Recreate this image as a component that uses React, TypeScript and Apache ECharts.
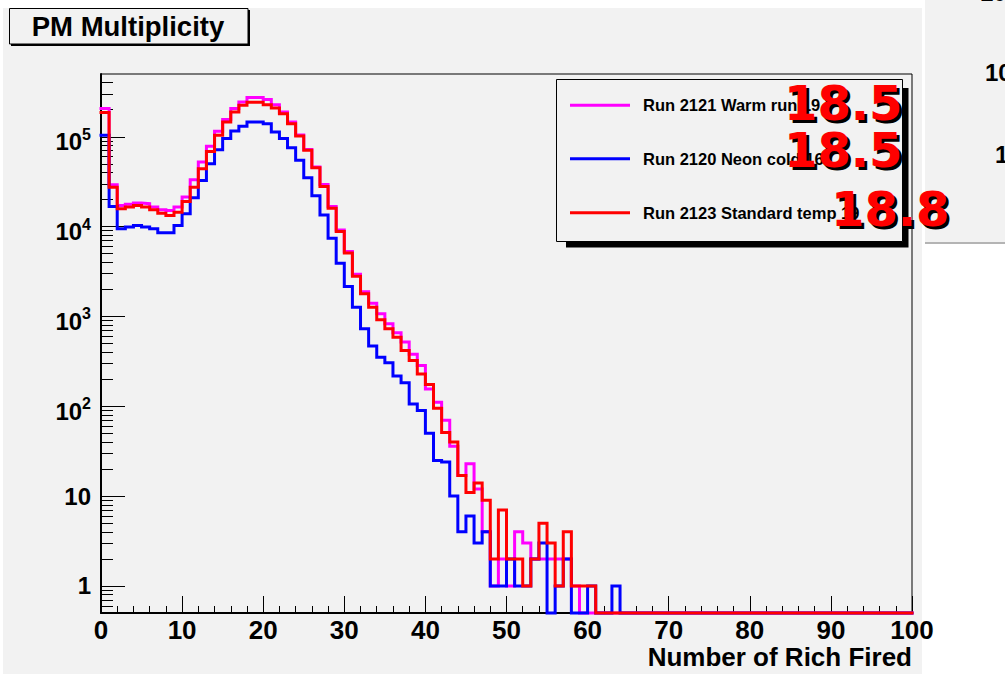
import React, { useEffect, useRef } from 'react';
import * as echarts from 'echarts';

// Bin contents, bins of width 1 from 0 to 100 (Number of Rich Fired)
const run2121Warm: number[] = [
  206000, 29300, 17200, 17700, 18300, 18000, 16500, 15400, 15100, 16500,
  21300, 33300, 52400, 78300, 115000, 156000, 206000, 244000, 273000, 273000,
  260000, 228000, 189000, 146000, 105000, 72000, 46000, 29500, 16800, 9200,
  5300, 2950, 1880, 1400, 1070, 828, 660, 520, 380, 285,
  156, 111, 70, 36, 17, 23, 12, 4, 1, 2,
  1, 4, 3, 2, 2, 2, 2, 2, 1, 0,
  0, 0, 0, 0, 0, 0, 0, 0, 0, 0,
  0, 0, 0, 0, 0, 0, 0, 0, 0, 0,
  0, 0, 0, 0, 0, 0, 0, 0, 0, 0,
  0, 0, 0, 0, 0, 0, 0, 0, 0, 0,
];
const run2120Neon: number[] = [
  104000, 16800, 9500, 9900, 10300, 9900, 9500, 8550, 8550, 10300,
  13900, 21000, 32700, 50200, 71900, 95500, 116000, 131000, 146000, 146000,
  140000, 113000, 95500, 75700, 54700, 35100, 22000, 13500, 7400, 3900,
  2160, 1270, 728, 470, 352, 305, 217, 183, 106, 90,
  50, 25, 24, 10, 4, 6, 3, 4, 1, 1,
  2, 1, 1, 2, 3, 0, 1, 2, 0, 0,
  1, 0, 0, 1, 0, 0, 0, 0, 0, 0,
  0, 0, 0, 0, 0, 0, 0, 0, 0, 0,
  0, 0, 0, 0, 0, 0, 0, 0, 0, 0,
  0, 0, 0, 0, 0, 0, 0, 0, 0, 0,
];
const run2123Standard: number[] = [
  186000, 27500, 15800, 16500, 17200, 16500, 15400, 14100, 13300, 14500,
  19100, 27500, 44200, 68800, 104000, 146000, 189000, 224000, 242000, 242000,
  228000, 209000, 181000, 140000, 102000, 70600, 45300, 28000, 16000, 8800,
  5070, 2810, 1790, 1270, 920, 728, 587, 417, 323, 229,
  175, 95, 51, 40, 17, 11, 14, 9, 2, 7,
  2, 2, 1, 2, 5, 3, 1, 4, 1, 1,
  1, 0, 0, 0, 0, 0, 0, 0, 0, 0,
  0, 0, 0, 0, 0, 0, 0, 0, 0, 0,
  0, 0, 0, 0, 0, 0, 0, 0, 0, 0,
  0, 0, 0, 0, 0, 0, 0, 0, 0, 0,
];

const seriesNames = ['Run 2121 Warm run 19', 'Run 2120 Neon cold 16', 'Run 2123 Standard temp 19'];
const seriesColors = ['#ff00ff', '#0000ff', '#ff0000'];
const meanLabels = ['18.5', '18.5', '18.8'];

const xRange = [0, 100];
const yRange = [0.5, 500000];
const yMajorTicks = [1, 10, 100, 1000, 10000, 100000];
const yMinorTicks = [
  0.6, 0.7, 0.8, 0.9,
  2, 3, 4, 5, 6, 7, 8, 9,
  20, 30, 40, 50, 60, 70, 80, 90,
  200, 300, 400, 500, 600, 700, 800, 900,
  2000, 3000, 4000, 5000, 6000, 7000, 8000, 9000,
  20000, 30000, 40000, 50000, 60000, 70000, 80000, 90000,
  200000, 300000, 400000,
];

const FONT = '"Liberation Sans", Arial, Helvetica, sans-serif';
const BG = '#f2f2f2';

function stepPoints(vals: number[]): [number, number][] {
  const floor = yRange[0];
  const pts: [number, number][] = [];
  vals.forEach((v, i) => {
    const y = v > 0 ? v : floor;
    pts.push([i, y], [i + 1, y]);
  });
  return pts;
}

export default function App() {
  const ref = useRef<HTMLDivElement>(null);
  useEffect(() => {
    if (!ref.current) return;
    const chart = echarts.init(ref.current, undefined, { renderer: 'svg' });
    const allData = [run2121Warm, run2120Neon, run2123Standard];
    const legendRowY = [105.7, 159.3, 213.3];
    const meanPos = [
      { x: 784, y: 103 },
      { x: 784, y: 150 },
      { x: 831, y: 209 },
    ];

    const option: any = {
      animation: false,
      backgroundColor: '#ffffff',
      textStyle: { fontFamily: FONT },
      grid: {
        left: 101, right: 93, top: 74, bottom: 61,
        show: true, borderColor: '#000', borderWidth: 1, backgroundColor: 'transparent',
      },
      xAxis: {
        type: 'value', min: xRange[0], max: xRange[1], interval: 10,
        axisLine: { show: true, onZero: false, lineStyle: { color: '#000', width: 2 } },
        axisTick: { show: true, inside: true, length: 17, lineStyle: { color: '#000', width: 1 } },
        minorTick: { show: true, splitNumber: 5, length: 7, lineStyle: { color: '#000', width: 1 } },
        splitLine: { show: false },
        minorSplitLine: { show: false },
        axisLabel: {
          margin: 4, color: '#000', fontFamily: FONT, fontWeight: 'bold', fontSize: 26,
        },
        name: 'Number of Rich Fired',
        nameLocation: 'end',
        nameGap: 0,
        nameTextStyle: {
          align: 'right', verticalAlign: 'top', padding: [31, 0, 0, 0],
          color: '#000', fontFamily: FONT, fontWeight: 'bold', fontSize: 26,
        },
      },
      yAxis: [
        {
          type: 'log', logBase: 10, min: yRange[0], max: yRange[1], position: 'left',
          axisLine: { show: true, onZero: false, lineStyle: { color: '#000', width: 2 } },
          axisTick: { show: true, inside: true, length: 24, customValues: yMajorTicks, lineStyle: { color: '#000', width: 1 } },
          splitLine: { show: false },
          minorTick: { show: false },
          axisLabel: {
            customValues: yMajorTicks,
            margin: 10,
            color: '#000',
            formatter: (v: number) => {
              const e = Math.round(Math.log10(v));
              if (e === 0) return '{b|1}';
              if (e === 1) return '{b|10}';
              return '{bb|10}{s|' + e + '}';
            },
            rich: {
              b: { fontFamily: FONT, fontWeight: 'bold', fontSize: 24, color: '#000' },
              bb: { fontFamily: FONT, fontWeight: 'bold', fontSize: 24, color: '#000', padding: [10, 0, 0, 0] },
              s: { fontFamily: FONT, fontWeight: 'bold', fontSize: 16, color: '#000', padding: [0, 0, 5, 0] },
            },
          },
        },
        {
          type: 'log', logBase: 10, min: yRange[0], max: yRange[1], position: 'left',
          axisLine: { show: false },
          axisTick: { show: true, inside: true, length: 12, customValues: yMinorTicks, lineStyle: { color: '#000', width: 1 } },
          axisLabel: { show: false },
          splitLine: { show: false },
          minorTick: { show: false },
        },
      ],
      legend: seriesNames.map((name, i) => ({
        data: [{ name, icon: 'rect' }],
        left: 570,
        top: legendRowY[i] - 9,
        padding: 0,
        itemWidth: 60,
        itemHeight: 3,
        selectedMode: false,
        textStyle: {
          fontFamily: FONT, fontWeight: 'bold', fontSize: 16.5, color: '#000', padding: [0, 0, 0, 8],
        },
        z: 5,
      })),
      series: seriesNames.map((name, i) => ({
        name,
        type: 'line',
        data: stepPoints(allData[i]),
        showSymbol: false,
        symbol: 'none',
        clip: false,
        silent: true,
        color: seriesColors[i],
        lineStyle: { color: seriesColors[i], width: 3, join: 'miter', cap: 'square' },
        emphasis: { disabled: true },
        z: 2 + i,
      })),
      graphic: [
        { type: 'rect', z: -20, silent: true, shape: { x: 3, y: 8, width: 919, height: 666 }, style: { fill: BG } },
        { type: 'rect', z: -20, silent: true, shape: { x: 925, y: 0, width: 80, height: 242 }, style: { fill: BG } },
        { type: 'rect', z: -20, silent: true, shape: { x: 925, y: 242, width: 80, height: 2 }, style: { fill: '#b4b4b4' } },
        { type: 'text', z: -19, silent: true, style: { x: 980, y: -8, text: '10', fontFamily: FONT, fontWeight: 'bold', fontSize: 24, fill: '#000', verticalAlign: 'middle' } },
        { type: 'text', z: -19, silent: true, style: { x: 985, y: 72, text: '10', fontFamily: FONT, fontWeight: 'bold', fontSize: 24, fill: '#000', verticalAlign: 'middle' } },
        { type: 'text', z: -19, silent: true, style: { x: 995, y: 154, text: '1', fontFamily: FONT, fontWeight: 'bold', fontSize: 24, fill: '#000', verticalAlign: 'middle' } },
        // title pave
        { type: 'rect', z: 10, silent: true, shape: { x: 11, y: 10, width: 239, height: 36 }, style: { fill: '#000' } },
        { type: 'rect', z: 11, silent: true, shape: { x: 9.5, y: 8.5, width: 238.5, height: 35.5 }, style: { fill: BG, stroke: '#000', lineWidth: 1 } },
        { type: 'text', z: 12, silent: true, style: { x: 128, y: 26.5, text: 'PM Multiplicity', fontFamily: FONT, fontWeight: 'bold', fontSize: 27.5, fill: '#000', align: 'center', verticalAlign: 'middle' } },
        // legend pave
        { type: 'rect', z: 3, silent: true, shape: { x: 566, y: 88, width: 342.5, height: 159.5 }, style: { fill: '#000' } },
        { type: 'rect', z: 4, silent: true, shape: { x: 556.5, y: 79.5, width: 346, height: 162 }, style: { fill: BG, stroke: '#000', lineWidth: 1 } },
        // mean values overlay
        ...meanLabels.flatMap((t, i) => [
          { type: 'text', z: 50, silent: true, style: { x: meanPos[i].x + 3, y: meanPos[i].y + 3, text: t, fontFamily: '"DejaVu Sans", sans-serif', fontWeight: 'bold', fontSize: 48, fill: '#000', verticalAlign: 'middle' } },
          { type: 'text', z: 51, silent: true, style: { x: meanPos[i].x, y: meanPos[i].y, text: t, fontFamily: '"DejaVu Sans", sans-serif', fontWeight: 'bold', fontSize: 48, fill: '#ff0000', verticalAlign: 'middle' } },
        ]),
      ],
    };
    chart.setOption(option);
    return () => chart.dispose();
  }, []);
  return <div ref={ref} style={{ position: 'fixed', left: 0, top: 0, width: 1005, height: 674 }} />;
}
